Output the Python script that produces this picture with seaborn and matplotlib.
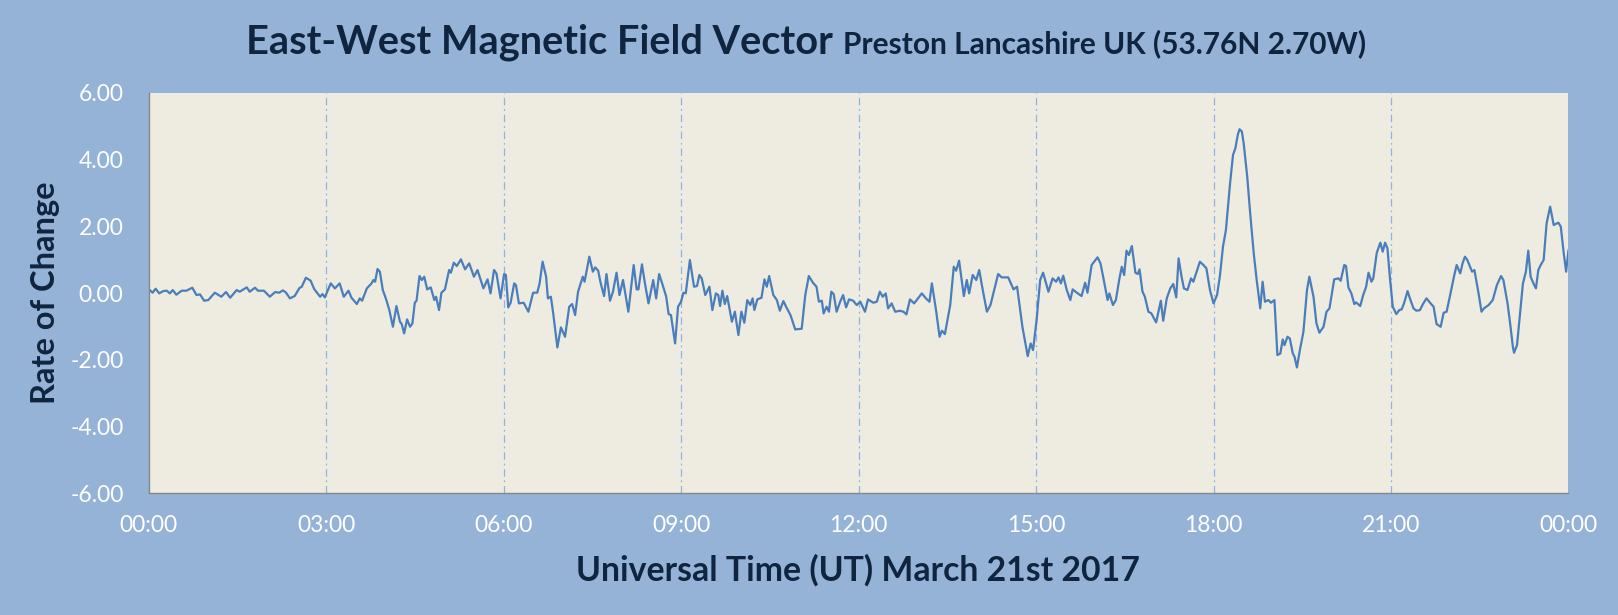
import matplotlib
matplotlib.use("Agg")
import matplotlib.pyplot as plt
import seaborn as sns
import pandas as pd

# --- Data ---
# time of day in hours (UT), rate of change of the east-west field
hours = [
    0.02, 0.07, 0.12, 0.18, 0.25, 0.31, 0.36, 0.41, 0.47, 0.56, 0.64, 0.74, 0.81, 0.87, 0.94,
    1.01, 1.12, 1.23, 1.31, 1.38, 1.49, 1.54, 1.66, 1.71, 1.80, 1.85, 1.95,
    2.05, 2.14, 2.21, 2.27, 2.32, 2.39, 2.47, 2.55, 2.59, 2.66, 2.74, 2.80, 2.90, 2.94, 2.98,
    3.08, 3.15, 3.23, 3.30, 3.38, 3.43, 3.52, 3.57, 3.61, 3.69, 3.77, 3.80, 3.83, 3.87,
    3.91, 3.96, 4.02, 4.07, 4.13, 4.19, 4.25, 4.28, 4.32, 4.37, 4.42, 4.46, 4.50, 4.53, 4.58,
    4.62, 4.66, 4.71, 4.77, 4.83, 4.86, 4.91, 4.95, 5.01, 5.08, 5.11, 5.16, 5.21, 5.28, 5.35,
    5.42, 5.50, 5.56, 5.66, 5.73, 5.78, 5.84, 5.88, 5.95, 6.01, 6.04, 6.08, 6.12, 6.18, 6.21,
    6.26, 6.34, 6.42, 6.50, 6.57, 6.61, 6.66, 6.72, 6.75, 6.80, 6.84, 6.91, 6.97, 7.04, 7.11,
    7.16, 7.21, 7.26, 7.34, 7.37, 7.45, 7.51, 7.55, 7.60, 7.64, 7.70, 7.74, 7.80, 7.85, 7.91, 7.96,
    8.02, 8.11, 8.20, 8.25, 8.28, 8.34, 8.39, 8.45, 8.53, 8.58, 8.63, 8.69, 8.75, 8.79, 8.83,
    8.90, 8.95, 9.00, 9.04, 9.08, 9.15, 9.22, 9.27, 9.31, 9.35, 9.41, 9.48, 9.53, 9.59, 9.63,
    9.66, 9.70, 9.74, 9.78, 9.86, 9.91, 9.97, 10.02, 10.07, 10.12, 10.17, 10.21, 10.24, 10.29,
    10.36, 10.41, 10.45, 10.49, 10.56, 10.62, 10.67, 10.73, 10.79, 10.85, 10.93, 11.04, 11.10,
    11.16, 11.23, 11.29, 11.33, 11.38, 11.41, 11.46, 11.50, 11.54, 11.58, 11.63, 11.69, 11.74,
    11.79, 11.84, 11.91, 11.97,
    12.03, 12.11, 12.16, 12.25, 12.31, 12.36, 12.41, 12.46, 12.50, 12.56, 12.62, 12.70, 12.76,
    12.81, 12.87, 12.94, 13.07, 13.14, 13.20, 13.24, 13.31, 13.37, 13.41, 13.46, 13.55, 13.61,
    13.65, 13.70, 13.78, 13.83, 13.87, 13.93, 13.99, 14.04, 14.10, 14.17, 14.23, 14.36, 14.42,
    14.53, 14.62, 14.68, 14.77, 14.86, 14.91, 14.95, 15.01, 15.07, 15.12, 15.21, 15.28, 15.34,
    15.38, 15.42, 15.46, 15.52, 15.58, 15.62, 15.69, 15.77, 15.83, 15.87, 15.94, 16.04, 16.09,
    16.14, 16.21, 16.24,
    16.30, 16.35, 16.41, 16.45, 16.49, 16.53, 16.57, 16.62, 16.68, 16.72, 16.75, 16.80, 16.84,
    16.90, 16.95, 17.03, 17.11, 17.15, 17.21, 17.27, 17.32, 17.37, 17.41, 17.46, 17.50, 17.56,
    17.62, 17.66, 17.77, 17.83, 17.88, 17.94, 18.00, 18.06, 18.11, 18.16, 18.21, 18.28, 18.33,
    18.37, 18.41, 18.44, 18.48, 18.51, 18.57, 18.62, 18.68, 18.73, 18.79, 18.83, 18.87, 18.93,
    18.97, 19.03, 19.08, 19.13, 19.17, 19.20, 19.25, 19.29, 19.34, 19.37, 19.41, 19.46, 19.52,
    19.58, 19.62, 19.69, 19.74, 19.79, 19.86, 19.91, 19.96,
    20.04, 20.11, 20.15, 20.21, 20.24, 20.28, 20.33, 20.38, 20.41, 20.48, 20.53, 20.58, 20.62,
    20.67, 20.70, 20.76, 20.82, 20.86, 20.90, 20.94, 20.98, 21.03, 21.09, 21.14, 21.18, 21.22,
    21.28, 21.32, 21.38, 21.43, 21.49, 21.54, 21.60, 21.66, 21.72, 21.77, 21.84, 21.89, 21.94,
    22.00, 22.07, 22.11, 22.17, 22.21, 22.25, 22.29, 22.37, 22.41, 22.48, 22.53, 22.57, 22.65,
    22.72, 22.79, 22.86, 22.90, 22.97, 23.01, 23.06, 23.08, 23.13, 23.17, 23.23, 23.28, 23.32,
    23.36, 23.42, 23.45, 23.49, 23.53, 23.58, 23.63, 23.69, 23.75, 23.83, 23.87, 23.92, 23.96, 24.00,
]
rate = [
    0.09, 0.01, 0.13, -0.01, 0.06, 0.07, -0.01, 0.09, -0.05, 0.07, 0.07, 0.16, -0.06, -0.04, -0.23,
    -0.21, 0.01, -0.11, 0.03, -0.14, 0.09, 0.04, 0.17, 0.04, 0.16, 0.07, 0.07,
    -0.11, 0.03, 0.01, 0.08, 0.02, -0.16, -0.09, 0.15, 0.19, 0.46, 0.37, 0.12, -0.11, -0.03, -0.13,
    0.29, 0.14, 0.29, -0.11, 0.07, -0.14, -0.33, -0.16, -0.23, 0.14, 0.29, 0.39, 0.34, 0.72,
    0.64, 0.09, -0.21, -0.51, -1.01, -0.39, -0.86, -0.93, -1.21, -0.79, -1.01, -0.91, -0.29, -0.23, 0.51,
    0.39, 0.49, 0.11, 0.17, -0.21, -0.11, -0.51, 0.01, 0.11, 0.69, 0.61, 0.91, 0.81, 1.01, 0.71,
    0.89, 0.49, 0.69, 0.14, 0.41, -0.01, 0.69, 0.59, -0.16, 0.57, 0.54, -0.43, -0.29, 0.29, 0.24,
    -0.31, -0.29, -0.56, 0.01, 0.01, 0.29, 0.94, 0.49, -0.16, -0.11, -0.61, -1.63, -1.03, -1.31, -0.41,
    -0.33, -0.66, 0.04, 0.49, 0.34, 1.09, 0.64, 0.77, 0.67, 0.31, -0.09, 0.57, -0.23, 0.04, 0.61, -0.06,
    0.39, -0.56, 0.84, 0.11, 0.11, 0.86, 0.29, -0.31, 0.39, -0.16, 0.57, 0.24, -0.11, -0.63, -0.66,
    -1.51, -0.41, -0.26, 0.01, -0.01, 0.99, 0.19, 0.21, 0.54, 0.44, -0.06, 0.19, -0.51, -0.01, -0.06,
    -0.39, 0.07, -0.33, -0.09, -0.86, -0.56, -1.26, -0.56, -0.89, -0.21, -0.36, -0.16, -0.51, -0.19,
    -0.14, 0.41, 0.19, 0.51, -0.06, -0.21, -0.53, -0.24, -0.46, -0.66, -1.09, -1.07, -0.06,
    0.51, 0.31, 0.19, -0.26, -0.23, -0.61, -0.41, -0.56, 0.04, -0.03, -0.56, -0.26, -0.06,
    -0.43, -0.19, -0.23, -0.36,
    -0.26, -0.56, -0.19, -0.29, -0.26, 0.04, -0.11, -0.01, -0.46, -0.31, -0.56, -0.53, -0.56,
    -0.64, -0.19, -0.31, -0.01, -0.16, -0.26, 0.29, -0.51, -1.31, -1.13, -1.23, -0.36, 0.79,
    0.67, 0.97, -0.09, 0.39, -0.01, 0.54, 0.39, 0.69, 0.09, -0.56, -0.36, 0.57, 0.47,
    0.47, 0.11, 0.19, -1.01, -1.89, -1.51, -1.71, -0.81, 0.39, 0.61, 0.04, 0.44, 0.34,
    0.47, 0.29, 0.52, 0.09, -0.21, 0.11, 0.01, -0.09, 0.31, 0.01, 0.84, 1.07, 0.89,
    0.44, -0.21, -0.01,
    -0.36, -0.21, 0.44, 0.79, 0.54, 1.27, 1.14, 1.41, 0.61, 0.57, 0.71, 0.04, -0.11,
    -0.56, -0.61, -0.88, -0.23, -0.83, -0.16, 0.14, 0.27, -0.13, 1.04, 0.49, 0.14, 0.09,
    0.44, 0.34, 0.94, 0.84, 0.74, 0.09, -0.31, -0.06, 0.54, 1.39, 1.89, 3.29, 4.14,
    4.34, 4.74, 4.91, 4.84, 4.49, 3.49, 2.39, 1.19, 0.39, -0.46, 0.34, -0.26, -0.21,
    -0.29, -0.21, -1.86, -1.81, -1.39, -1.56, -1.31, -1.36, -1.81, -1.91, -2.23, -1.71, -1.16,
    0.09, 0.49, -0.11, -0.91, -1.19, -1.01, -0.56, -0.46,
    0.41, 0.44, 0.37, 0.84, 0.81, 0.17, -0.01, -0.33, -0.28, -0.39, -0.06, 0.19, 0.61,
    0.34, 0.44, 1.21, 1.51, 1.24, 1.51, 1.34, 0.49, -0.41, -0.63, -0.51, -0.49, -0.31,
    0.06, -0.16, -0.46, -0.53, -0.51, -0.33, -0.16, -0.29, -0.41, -0.93, -1.01, -0.59, -0.56,
    -0.06, 0.54, 0.84, 0.59, 0.89, 1.09, 0.99, 0.64, 0.69, -0.01, -0.56, -0.46, -0.36,
    -0.21, 0.24, 0.51, 0.39, -0.31, -0.86, -1.61, -1.79, -1.56, -0.81, 0.29, 0.64, 1.27,
    0.49, 0.24, 0.14, 0.69, 0.84, 0.99, 2.09, 2.59, 2.04, 2.11, 1.99, 1.19, 0.64, 1.29,
]
tick_hours = [0, 3, 6, 9, 12, 15, 18, 21, 24]
tick_labels = ["00:00", "03:00", "06:00", "09:00", "12:00", "15:00", "18:00", "21:00", "00:00"]
y_ticks = [-6, -4, -2, 0, 2, 4, 6]

TITLE = "East-West Magnetic Field Vector"
SUBTITLE = "Preston Lancashire UK (53.76N 2.70W)"
X_LABEL = "Universal Time (UT) March 21st 2017"
Y_LABEL = "Rate of Change"

# --- Colours ---
FIG_BG = "#95B3D7"
PLOT_BG = "#EEECE1"
LINE = "#4A7EBB"
NAVY = "#0F243E"
GRID = "#8EB4E3"
AXIS = "#868686"

sns.set_style("white")
plt.rcParams['font.family'] = ['Lato', 'DejaVu Sans']

df = pd.DataFrame({"hours": hours, "rate": rate})

fig = plt.figure(figsize=(16.18, 6.15), dpi=100, facecolor=FIG_BG)
ax = fig.add_axes([0.0918, 0.198, 0.8776, 0.651])
ax.set_facecolor(PLOT_BG)

sns.lineplot(data=df, x="hours", y="rate", ax=ax, color=LINE, linewidth=1.6)

ax.set_xlim(0, 24)
ax.set_ylim(-6, 6)
ax.set_xticks(tick_hours)
ax.set_xticklabels(tick_labels)
ax.set_yticks(y_ticks)
ax.set_yticklabels([f"{v:.2f}" for v in y_ticks])
ax.set_xlabel("")
ax.set_ylabel("")

# vertical dashed grid at the inner 3-hour marks
for h in tick_hours[1:-1]:
    ax.axvline(h, color=GRID, linewidth=0.9, linestyle=(0, (6, 3, 1.5, 3)), zorder=0)

for side in ["top", "right"]:
    ax.spines[side].set_visible(False)
for side in ["left", "bottom"]:
    ax.spines[side].set_color(AXIS)
    ax.spines[side].set_linewidth(1.0)

ax.tick_params(axis="both", which="major", direction="out", length=5, width=1.0,
               color=AXIS, labelcolor="white", labelsize=16.5)
ax.tick_params(axis="x", pad=11)
ax.tick_params(axis="y", pad=13)

# axis titles placed where the reference has them
fig.text(0.5305, 0.073, X_LABEL, ha="center", va="center",
         fontsize=24.3, fontweight="bold", color=NAVY)
fig.text(0.028, 0.524, Y_LABEL, ha="center", va="center", rotation=90,
         fontsize=23.5, fontweight="bold", color=NAVY)

fig.text(0.515, 0.913, TITLE, ha="right", va="baseline",
         fontsize=28.6, fontweight="bold", color=NAVY)
fig.text(0.521, 0.913, SUBTITLE, ha="left", va="baseline",
         fontsize=21.5, fontweight="bold", color=NAVY)

fig.savefig("out.png", dpi=100, facecolor=FIG_BG)
